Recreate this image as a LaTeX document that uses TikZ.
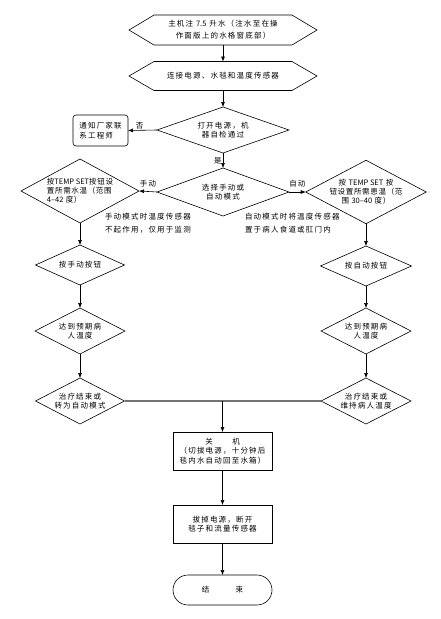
\documentclass[tikz,border=0pt]{standalone}
\usepackage{fontspec}
\newfontfamily\cjk{Noto Sans CJK SC}[LetterSpace=16]
\newfontfamily\cjkm{Noto Sans CJK SC}[LetterSpace=9]
\newfontfamily\lat{Noto Sans CJK SC}
\newcommand{\lt}[1]{{\lat #1}}
\usetikzlibrary{shapes.geometric,arrows.meta}
\tikzset{
 every node/.style={font=\cjk\fontsize{7.5}{9.5}\selectfont, inner sep=0pt, outer sep=0pt},
 line/.style={draw=black, line width=0.6pt},
 arr/.style={line, -{Latex[length=5pt,width=4pt]}},
 dia/.style={diamond, line, align=center},
 bigdia/.style={dia, font=\cjkm\fontsize{7.5}{9}\selectfont},
 hexa/.style={rectangle, minimum width=188pt, minimum height=30pt, align=center},
 box/.style={rectangle, line, minimum width=99pt, minimum height=38pt, align=center},
 lbl/.style={font=\cjk\fontsize{7.5}{9}\selectfont, inner sep=1.5pt},
 note/.style={anchor=west, align=left, font=\cjk\fontsize{7.5}{13}\selectfont}
}
\newcommand{\hexdraw}[1]{\draw[line] (#1.west) -- ([xshift=25pt]#1.north west) -- ([xshift=-25pt]#1.north east) -- (#1.east) -- ([xshift=-25pt]#1.south east) -- ([xshift=25pt]#1.south west) -- cycle;}
\begin{document}
\begin{tikzpicture}[x=1pt,y=-1pt]
\useasboundingbox (0,0) rectangle (441,619);
% top hexagons
\node[hexa, font=\cjk\fontsize{7.5}{12}\selectfont] (h1) at (223,30) {主机注 \lt{7.5} 升水（注水至在操\\作面版上的水格窗底部）};
\hexdraw{h1}
\node[hexa, minimum height=29pt] (h2) at (223,76) {连接电源、水毯和温度传感器};
\hexdraw{h2}
% self check
\node[dia, minimum width=132pt, minimum height=46pt, aspect=2.87] (d1) at (223,130) {打开电源，机\\器自检通过};
\node[rectangle, line, rounded corners=3pt, minimum width=55pt, minimum height=31pt, align=left] (notify) at (100.5,130.5) {通知厂家联\\系工程师};
% mode select
\node[dia, minimum width=132pt, minimum height=48pt, aspect=2.75] (d2) at (223,192) {选择手动或\\自动模式};
\node[bigdia, minimum width=118pt, minimum height=64pt, aspect=1.81, align=left] (dl) at (80,191) {按\lt{TEMP SET}按钮设\\置所需水温（范围\\\lt{4–42} 度）};
\node[bigdia, minimum width=118pt, minimum height=62pt, aspect=1.9] (dr) at (366,192) {按 \lt{TEMP SET} 按\\钮设置所需患温（范\\围 \lt{30–40} 度）};
\node[note] (nl) at (105,223.5) {手动模式时温度传感器\\不起作用，仅用于监测};
\node[note] (nr) at (245,223.5) {自动模式时将温度传感器\\置于病人食道或肛门内};
% left column
\node[dia, minimum width=89pt, minimum height=40pt, aspect=2.2] (ml1) at (80,265) {按手动按钮};
\node[dia, minimum width=90pt, minimum height=46pt, aspect=2] (ml2) at (80,331) {达到预期病\\人温度};
\node[dia, minimum width=89pt, minimum height=46pt, aspect=2] (ml3) at (80,401) {治疗结束或\\转为自动模式};
% right column
\node[dia, minimum width=91pt, minimum height=40pt, aspect=2.2] (mr1) at (366,266) {按自动按钮};
\node[dia, minimum width=90pt, minimum height=46pt, aspect=2] (mr2) at (366,331) {达到预期病\\人温度};
\node[dia, minimum width=90pt, minimum height=46pt, aspect=2] (mr3) at (366,401) {治疗结束或\\维持病人温度};
% bottom
\node[box, font=\cjk\fontsize{7.5}{9.5}\selectfont] (off) at (222.5,451) {关\hspace{2.6em}机\\（切拔电源，十分钟后\\毯内水自动回至水箱）};
\node[box] (unplug) at (222.5,524) {拔掉电源，断开\\毯子和流量传感器};
\node[rectangle, line, rounded corners=15pt, minimum width=99pt, minimum height=30pt] (end) at (222.5,590) {结\hspace{3.5em}束};
% connectors
\draw[arr] (h1.south) -- (h2.north);
\draw[arr] (h2.south) -- (d1.north);
\draw[arr] (d1.west) -- node[lbl, above, pos=0.6] {否} (notify.east);
\draw[arr] (d1.south) -- node[lbl, left, pos=0.55] {是} (d2.north);
\draw[arr] (d2.west) -- node[lbl, above, pos=0.5, yshift=3pt] {手动} (dl.east);
\draw[arr] (d2.east) -- node[lbl, above, pos=0.5, yshift=3pt] {自动} (dr.west);
\draw[arr] (dl.south) -- (ml1.north);
\draw[arr] (ml1.south) -- (ml2.north);
\draw[arr] (ml2.south) -- (ml3.north);
\draw[arr] (dr.south) -- (mr1.north);
\draw[arr] (mr1.south) -- (mr2.north);
\draw[arr] (mr2.south) -- (mr3.north);
\draw[draw=black!55, line width=1.3pt] (ml3.east) -- (mr3.west);
\coordinate (j) at (off.north |- ml3.east);
\draw[arr] (j) -- (off.north);
\draw[arr] (off.south) -- (unplug.north);
\draw[arr] (unplug.south) -- (end.north);
\end{tikzpicture}
\end{document}
